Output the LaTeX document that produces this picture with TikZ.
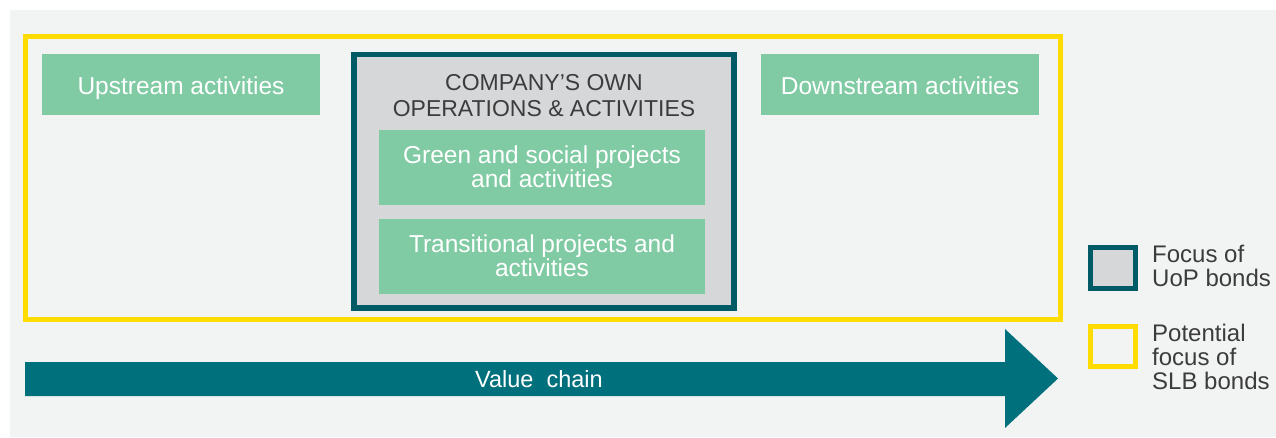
\documentclass[tikz,border=0pt]{standalone}
\usepackage{fontspec}
\setmainfont{Liberation Sans}
\definecolor{bgc}{HTML}{F2F4F3}
\definecolor{boxgreen}{HTML}{80CBA4}
\definecolor{tealdark}{HTML}{005B66}
\definecolor{tealarrow}{HTML}{00707C}
\definecolor{opsgray}{HTML}{D6D7D9}
\definecolor{ylw}{HTML}{FFDC00}
\definecolor{txtdark}{HTML}{3C3C3C}
\begin{document}
\begin{tikzpicture}[x=1pt,y=-1pt,
  greenbox/.style={draw=none,fill=boxgreen,inner sep=0pt,minimum width=#1},
  whitetxt/.style={text=white,font=\fontsize{24.5}{24}\selectfont,inner sep=0pt,align=center},
  darktxt/.style={text=txtdark,font=\fontsize{23}{26}\selectfont,inner sep=0pt,align=center},
  legtxt/.style={text=txtdark,font=\fontsize{24}{24}\selectfont,inner sep=0pt,align=left,anchor=base west}]
\useasboundingbox (0,0) rectangle (1276,437);
\fill[white] (0,0) rectangle (1276,437);
\fill[bgc] (10,10) rectangle (1276,437);
% SLB scope (yellow)
\node[draw=ylw,line width=5pt,inner sep=0pt,minimum width=1035pt,minimum height=283pt] (slb) at (543,178) {};
% upstream / downstream
\node[greenbox=278pt,minimum height=61pt] (up) at (181,84.5) {};
\node[whitetxt,anchor=base] (uptxt) at (181,94) {Upstream activities};
\node[greenbox=278pt,minimum height=61pt] (down) at (900,84.5) {};
\node[whitetxt,anchor=base] (downtxt) at (900,94) {Downstream activities};
% company box
\node[draw=tealdark,fill=opsgray,line width=5.5pt,inner sep=0pt,minimum width=380pt,minimum height=253.5pt] (ops) at (544,181.3) {};
\node[darktxt,anchor=base] (opstxt) at (544,116) {COMPANY’S OWN\\OPERATIONS \& ACTIVITIES};
\node[greenbox=326pt,minimum height=74.7pt] (gs) at (542,167.35) {};
\node[whitetxt,anchor=base] (gstxt) at (542,187) {Green and social projects\\and activities};
\node[greenbox=326pt,minimum height=75pt] (tr) at (542,256.5) {};
\node[whitetxt,anchor=base] (trtxt) at (542,276.5) {Transitional projects and\\activities};
% value chain arrow
\fill[tealarrow] (25,362) -- (1005,362) -- (1005,329) -- (1058,378.5) -- (1005,428) -- (1005,396) -- (25,396) -- cycle;
\node[whitetxt,font=\fontsize{23.5}{24}\selectfont,anchor=base] (vc) at (539,387.5) {Value\ \ chain};
% legend
\node[draw=tealdark,fill=opsgray,line width=5pt,inner sep=0pt,minimum width=45pt,minimum height=41pt] (leg1) at (1113,268) {};
\node[legtxt] (leg1txt) at (1152,286) {Focus of\\UoP bonds};
\node[draw=ylw,line width=5pt,inner sep=0pt,minimum width=45pt,minimum height=40pt] (leg2) at (1113,346.5) {};
\node[legtxt] (leg2txt) at (1152,389.5) {Potential\\focus of\\SLB bonds};
\end{tikzpicture}
\end{document}
